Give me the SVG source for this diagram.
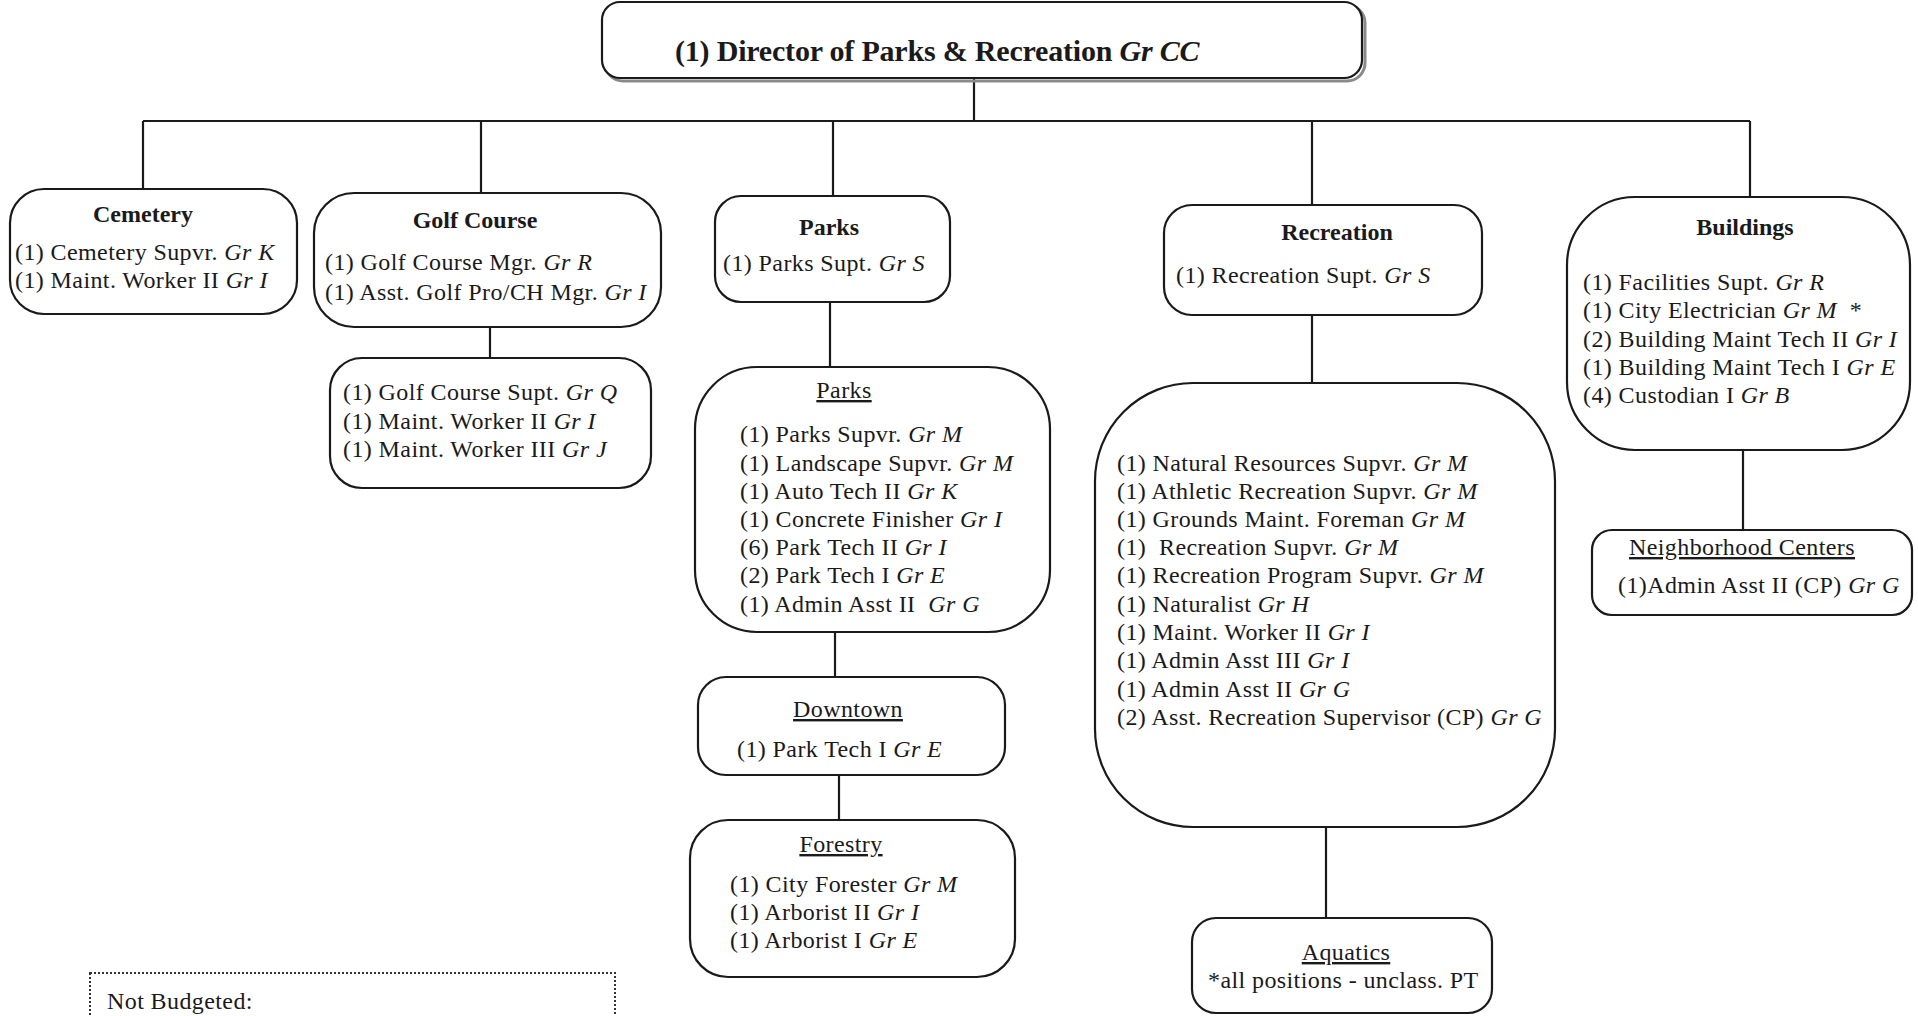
<svg xmlns="http://www.w3.org/2000/svg" width="1918" height="1016" viewBox="0 0 1918 1016">
  <style>
    .box { fill: #ffffff; stroke: #1a1a1a; stroke-width: 2.2; }
    .shadow { fill: none; stroke: #8a8a8a; stroke-width: 3; }
    .conn { fill: none; stroke: #1a1a1a; stroke-width: 2.2; }
    .dotted { fill: none; stroke: #333333; stroke-width: 2; stroke-dasharray: 2 2; }
    text { font-family: "Liberation Serif", "Times New Roman", serif; fill: #1a1a1a; font-size: 24px; letter-spacing: 0.4px; }
    .title { font-weight: bold; font-size: 30px; letter-spacing: -0.2px; }
    .head { font-weight: bold; text-anchor: middle; letter-spacing: 0; }
    .sub { text-anchor: middle; text-decoration: underline; }
    .gr { font-style: italic; }
  </style>

  <rect width="1918" height="1016" fill="#ffffff"/>

  <!-- connectors -->
  <g id="connectors">
    <path class="conn" d="M974,78 V121"/>
    <path class="conn" d="M143,121 H1750"/>
    <path class="conn" d="M143,121 V189"/>
    <path class="conn" d="M481,121 V193"/>
    <path class="conn" d="M833,121 V196"/>
    <path class="conn" d="M1312,121 V205"/>
    <path class="conn" d="M1750,121 V197"/>
    <path class="conn" d="M490,327 V358"/>
    <path class="conn" d="M830,302 V367"/>
    <path class="conn" d="M835,632 V677"/>
    <path class="conn" d="M839,775 V820"/>
    <path class="conn" d="M1312,315 V383"/>
    <path class="conn" d="M1326,827 V918"/>
    <path class="conn" d="M1743,450 V530"/>
  </g>

  <!-- director -->
  <g id="director">
    <rect class="shadow" x="605" y="5" width="760" height="76" rx="18"/>
    <rect class="box" x="602" y="2" width="760" height="76" rx="18"/>
    <text class="title" x="675" y="61">(1) Director of Parks &amp; Recreation <tspan class="gr">Gr CC</tspan></text>
  </g>

  <!-- cemetery -->
  <g id="cemetery">
    <rect class="box" x="10" y="189" width="287" height="125" rx="34"/>
    <text class="head" x="143" y="222">Cemetery</text>
    <text x="15" y="260">(1) Cemetery Supvr. <tspan class="gr">Gr K</tspan></text>
    <text x="15" y="288">(1) Maint. Worker II <tspan class="gr">Gr I</tspan></text>
  </g>

  <!-- golf course -->
  <g id="golf-course">
    <rect class="box" x="314" y="193" width="347" height="134" rx="40"/>
    <text class="head" x="475" y="228">Golf Course</text>
    <text x="325" y="270">(1) Golf Course Mgr. <tspan class="gr">Gr R</tspan></text>
    <text x="325" y="300">(1) Asst. Golf Pro/CH Mgr. <tspan class="gr">Gr I</tspan></text>
  </g>

  <g id="golf-maintenance">
    <rect class="box" x="330" y="358" width="321" height="130" rx="32"/>
    <text x="343" y="400">(1) Golf Course Supt. <tspan class="gr">Gr Q</tspan></text>
    <text x="343" y="429">(1) Maint. Worker II <tspan class="gr">Gr I</tspan></text>
    <text x="343" y="457">(1) Maint. Worker III <tspan class="gr">Gr J</tspan></text>
  </g>

  <!-- parks -->
  <g id="parks">
    <rect class="box" x="715" y="196" width="235" height="106" rx="26"/>
    <text class="head" x="829" y="235">Parks</text>
    <text x="723" y="271">(1) Parks Supt. <tspan class="gr">Gr S</tspan></text>
  </g>

  <g id="parks-staff">
    <rect class="box" x="695" y="367" width="355" height="265" rx="62"/>
    <text class="sub" x="844" y="398">Parks</text>
    <text x="740" y="442">(1) Parks Supvr. <tspan class="gr">Gr M</tspan></text>
    <text x="740" y="471">(1) Landscape Supvr. <tspan class="gr">Gr M</tspan></text>
    <text x="740" y="499">(1) Auto Tech II <tspan class="gr">Gr K</tspan></text>
    <text x="740" y="527">(1) Concrete Finisher <tspan class="gr">Gr I</tspan></text>
    <text x="740" y="555">(6) Park Tech II <tspan class="gr">Gr I</tspan></text>
    <text x="740" y="583">(2) Park Tech I <tspan class="gr">Gr E</tspan></text>
    <text x="740" y="612">(1) Admin Asst II&#160; <tspan class="gr">Gr G</tspan></text>
  </g>

  <g id="downtown">
    <rect class="box" x="698" y="677" width="307" height="98" rx="28"/>
    <text class="sub" x="848" y="717">Downtown</text>
    <text x="737" y="757">(1) Park Tech I <tspan class="gr">Gr E</tspan></text>
  </g>

  <g id="forestry">
    <rect class="box" x="690" y="820" width="325" height="157" rx="38"/>
    <text class="sub" x="841" y="852">Forestry</text>
    <text x="730" y="892">(1) City Forester <tspan class="gr">Gr M</tspan></text>
    <text x="730" y="920">(1) Arborist II <tspan class="gr">Gr I</tspan></text>
    <text x="730" y="948">(1) Arborist I <tspan class="gr">Gr E</tspan></text>
  </g>

  <!-- recreation -->
  <g id="recreation">
    <rect class="box" x="1164" y="205" width="318" height="110" rx="28"/>
    <text class="head" x="1337" y="240">Recreation</text>
    <text x="1176" y="283">(1) Recreation Supt. <tspan class="gr">Gr S</tspan></text>
  </g>

  <g id="recreation-staff">
    <rect class="box" x="1095" y="383" width="460" height="444" rx="98"/>
    <text x="1117" y="471">(1) Natural Resources Supvr. <tspan class="gr">Gr M</tspan></text>
    <text x="1117" y="499">(1) Athletic Recreation Supvr. <tspan class="gr">Gr M</tspan></text>
    <text x="1117" y="527">(1) Grounds Maint. Foreman <tspan class="gr">Gr M</tspan></text>
    <text x="1117" y="555">(1)&#160; Recreation Supvr. <tspan class="gr">Gr M</tspan></text>
    <text x="1117" y="583">(1) Recreation Program Supvr. <tspan class="gr">Gr M</tspan></text>
    <text x="1117" y="612">(1) Naturalist <tspan class="gr">Gr H</tspan></text>
    <text x="1117" y="640">(1) Maint. Worker II <tspan class="gr">Gr I</tspan></text>
    <text x="1117" y="668">(1) Admin Asst III <tspan class="gr">Gr I</tspan></text>
    <text x="1117" y="697">(1) Admin Asst II <tspan class="gr">Gr G</tspan></text>
    <text x="1117" y="725">(2) Asst. Recreation Supervisor (CP) <tspan class="gr">Gr G</tspan></text>
  </g>

  <g id="aquatics">
    <rect class="box" x="1192" y="918" width="300" height="95" rx="24"/>
    <text class="sub" x="1346" y="960">Aquatics</text>
    <text x="1208" y="988">*all positions - unclass. PT</text>
  </g>

  <!-- buildings -->
  <g id="buildings">
    <rect class="box" x="1567" y="197" width="343" height="253" rx="68"/>
    <text class="head" x="1745" y="235">Buildings</text>
    <text x="1583" y="290">(1) Facilities Supt. <tspan class="gr">Gr R</tspan></text>
    <text x="1583" y="318">(1) City Electrician <tspan class="gr">Gr M</tspan>&#160; *</text>
    <text x="1583" y="347">(2) Building Maint Tech II <tspan class="gr">Gr I</tspan></text>
    <text x="1583" y="375">(1) Building Maint Tech I <tspan class="gr">Gr E</tspan></text>
    <text x="1583" y="403">(4) Custodian I <tspan class="gr">Gr B</tspan></text>
  </g>

  <g id="neighborhood-centers">
    <rect class="box" x="1592" y="530" width="320" height="85" rx="20"/>
    <text class="sub" x="1742" y="555">Neighborhood Centers</text>
    <text x="1618" y="593">(1)Admin Asst II (CP) <tspan class="gr">Gr G</tspan></text>
  </g>

  <!-- unbudgeted positions note, running off the bottom of the page -->
  <g id="not-budgeted">
    <rect class="dotted" x="90" y="973" width="525" height="60"/>
    <text x="107" y="1009">Not Budgeted:</text>
  </g>
</svg>
